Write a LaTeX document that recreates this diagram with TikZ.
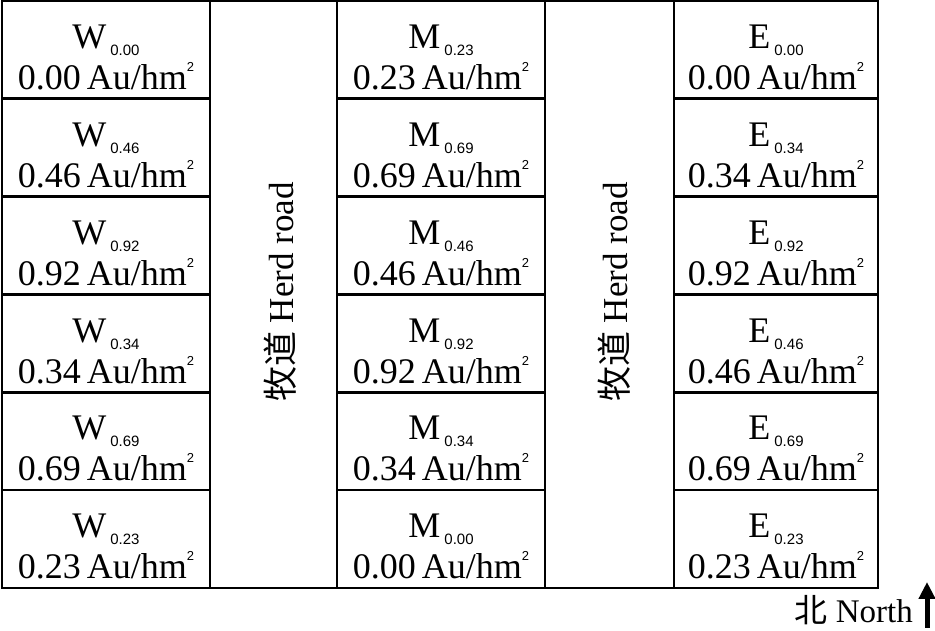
\documentclass[tikz,border=0pt]{standalone}
\usepackage{fontspec}
\setmainfont{Liberation Serif}
\newfontfamily\subfont{Liberation Sans}
\newfontfamily\cjk{Noto Sans CJK SC}
\usetikzlibrary{arrows.meta}

% plot name with subscript, then stocking rate
\newcommand{\plotlabel}[2]{\rule{0pt}{39pt}#1\raisebox{-7pt}{\kern4pt\subfont\fontsize{15}{15}\selectfont #2}\\#2\,Au/hm\raisebox{18pt}{\subfont\fontsize{13}{13}\selectfont 2}}

\begin{document}
\begin{tikzpicture}[x=1pt,y=1pt,
  plot/.style={draw,line width=2.6pt,minimum height=97.8pt,inner sep=0pt,align=center,font=\fontsize{36}{41}\selectfont},
  wide/.style={plot,minimum width=208pt},
  narrow/.style={plot,minimum width=204pt},
  road/.style={rotate=90,font=\fontsize{35}{40}\selectfont},
  frame/.style={draw,line width=2.6pt},
  northarrow/.style={line width=5pt,-{Triangle[length=17pt,width=16pt]}}]
  \useasboundingbox (0,0) rectangle (935,631);
  \draw[frame] (2,630) rectangle (878,43);
  % west column
  \node[wide] (w1) at (106,581.1) {\plotlabel{W}{0.00}};
  \node[wide] (w2) at (106,483.3) {\plotlabel{W}{0.46}};
  \node[wide] (w3) at (106,385.4) {\plotlabel{W}{0.92}};
  \node[wide] (w4) at (106,287.6) {\plotlabel{W}{0.34}};
  \node[wide] (w5) at (106,189.8) {\plotlabel{W}{0.69}};
  \node[wide] (w6) at (106,91.9) {\plotlabel{W}{0.23}};
  % middle column
  \node[wide] (m1) at (441,581.1) {\plotlabel{M}{0.23}};
  \node[wide] (m2) at (441,483.3) {\plotlabel{M}{0.69}};
  \node[wide] (m3) at (441,385.4) {\plotlabel{M}{0.46}};
  \node[wide] (m4) at (441,287.6) {\plotlabel{M}{0.92}};
  \node[wide] (m5) at (441,189.8) {\plotlabel{M}{0.34}};
  \node[wide] (m6) at (441,91.9) {\plotlabel{M}{0.00}};
  % east column
  \node[narrow] (e1) at (776,581.1) {\plotlabel{E}{0.00}};
  \node[narrow] (e2) at (776,483.3) {\plotlabel{E}{0.34}};
  \node[narrow] (e3) at (776,385.4) {\plotlabel{E}{0.92}};
  \node[narrow] (e4) at (776,287.6) {\plotlabel{E}{0.46}};
  \node[narrow] (e5) at (776,189.8) {\plotlabel{E}{0.69}};
  \node[narrow] (e6) at (776,91.9) {\plotlabel{E}{0.23}};
  % herd roads
  \node[road] (road1) at (280,339) {{\cjk 牧道} Herd road};
  \node[road] (road2) at (614,339) {{\cjk 牧道} Herd road};
  % north sign
  \node[anchor=base east,inner sep=0pt,font=\fontsize{33}{40}\selectfont] (north) at (913,8) {{\cjk 北} North};
  \coordinate (foot) at (927,3);
  \coordinate (head) at (927,49);
  \draw[northarrow] (foot) -- (head);
\end{tikzpicture}
\end{document}
